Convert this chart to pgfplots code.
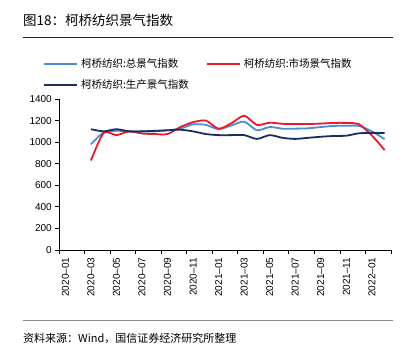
\documentclass[border=0pt]{standalone}
\usepackage{pgfplots}
\pgfplotsset{compat=1.18}
\usepackage{fontspec}
\setmainfont{Liberation Sans}
\newfontfamily\cjk{Noto Sans CJK SC}
\definecolor{cblue}{HTML}{4A8FD4}
\definecolor{cred}{HTML}{E8192C}
\definecolor{cnavy}{HTML}{1B2F5E}
\begin{document}
\begin{tikzpicture}[x=1bp,y=1bp]
\useasboundingbox (0,0) rectangle (410,358);
\node[anchor=west,inner sep=0,font=\cjk\fontsize{13.5bp}{16bp}\selectfont] at (23,338) {图18：柯桥纺织景气指数};
\draw[line width=0.8bp, black!85] (23,321) -- (393,321);
\draw[line width=0.8bp, black!45] (23,38) -- (393,38);
\node[anchor=west,inner sep=0,font=\cjk\fontsize{11bp}{13bp}\selectfont] at (23,20) {资料来源：Wind，国信证券经济研究所整理};
\begin{axis}[at={(59bp,108bp)}, anchor=south west, scale only axis,
  width=332bp, height=151bp,
  xmin=-0.5, xmax=25.5, ymin=0, ymax=1400,
  axis x line*=bottom, axis y line*=left,
  axis line style={line width=0.8bp, black},
  tick align=outside, major tick length=4bp,
  tick style={line width=0.8bp, black},
  xtick={-0.5,1.5,...,25.5}, xticklabels={},
  extra x ticks={0,2,...,24},
  extra x tick labels={2020–01,2020–03,2020–05,2020–07,2020–09,2020–11,2021–01,2021–03,2021–05,2021–07,2021–09,2021–11,2022–01},
  extra x tick style={major tick style={draw=none}, xticklabel style={rotate=90, anchor=east, inner sep=3.5bp}},
  ytick={0,200,...,1400},
  yticklabel style={inner sep=1bp, xshift=-2bp},
  tick label style={font=\fontsize{10bp}{12bp}\selectfont},
  /pgf/number format/assume math mode=true,
  /pgf/number format/1000 sep={},
  legend columns=2,
  legend cell align=left,
  legend style={draw=none, fill=none, anchor=north west, at={(rel axis cs:-0.048,1.282)},
    inner sep=0pt, font=\cjk\fontsize{10.5bp}{12bp}\selectfont,
    nodes={inner xsep=3bp, inner ysep=2bp},
    /tikz/every even column/.append style={column sep=14bp}, row sep=7bp},
  legend image code/.code={\draw[#1, line width=1.8bp] (0bp,0bp) -- (33bp,0bp);},
  every axis plot/.append style={line width=1.8bp, smooth, tension=0.45},
]
\addplot[cblue] coordinates {
(2,980) (3,1090) (4,1105) (5,1100) (6,1100) (7,1100) (8,1110) (9,1125) (10,1165) (11,1160) (12,1120) (13,1155) (14,1190) (15,1110) (16,1140) (17,1125) (18,1125) (19,1128) (20,1140) (21,1150) (22,1152) (23,1150) (24,1100) (25,1028)};
\addlegendentry{柯桥纺织:总景气指数}
\addplot[cred] coordinates {
(2,830) (3,1085) (4,1065) (5,1100) (6,1080) (7,1075) (8,1075) (9,1140) (10,1185) (11,1200) (12,1125) (13,1175) (14,1245) (15,1160) (16,1180) (17,1170) (18,1168) (19,1168) (20,1172) (21,1178) (22,1178) (23,1165) (24,1062) (25,927)};
\addlegendentry{柯桥纺织:市场景气指数}
\addplot[cnavy] coordinates {
(2,1120) (3,1100) (4,1120) (5,1100) (6,1100) (7,1105) (8,1110) (9,1115) (10,1100) (11,1075) (12,1065) (13,1065) (14,1065) (15,1030) (16,1065) (17,1040) (18,1030) (19,1040) (20,1050) (21,1057) (22,1060) (23,1082) (24,1085) (25,1085)};
\addlegendentry{柯桥纺织:生产景气指数}
\end{axis}
\end{tikzpicture}
\end{document}
